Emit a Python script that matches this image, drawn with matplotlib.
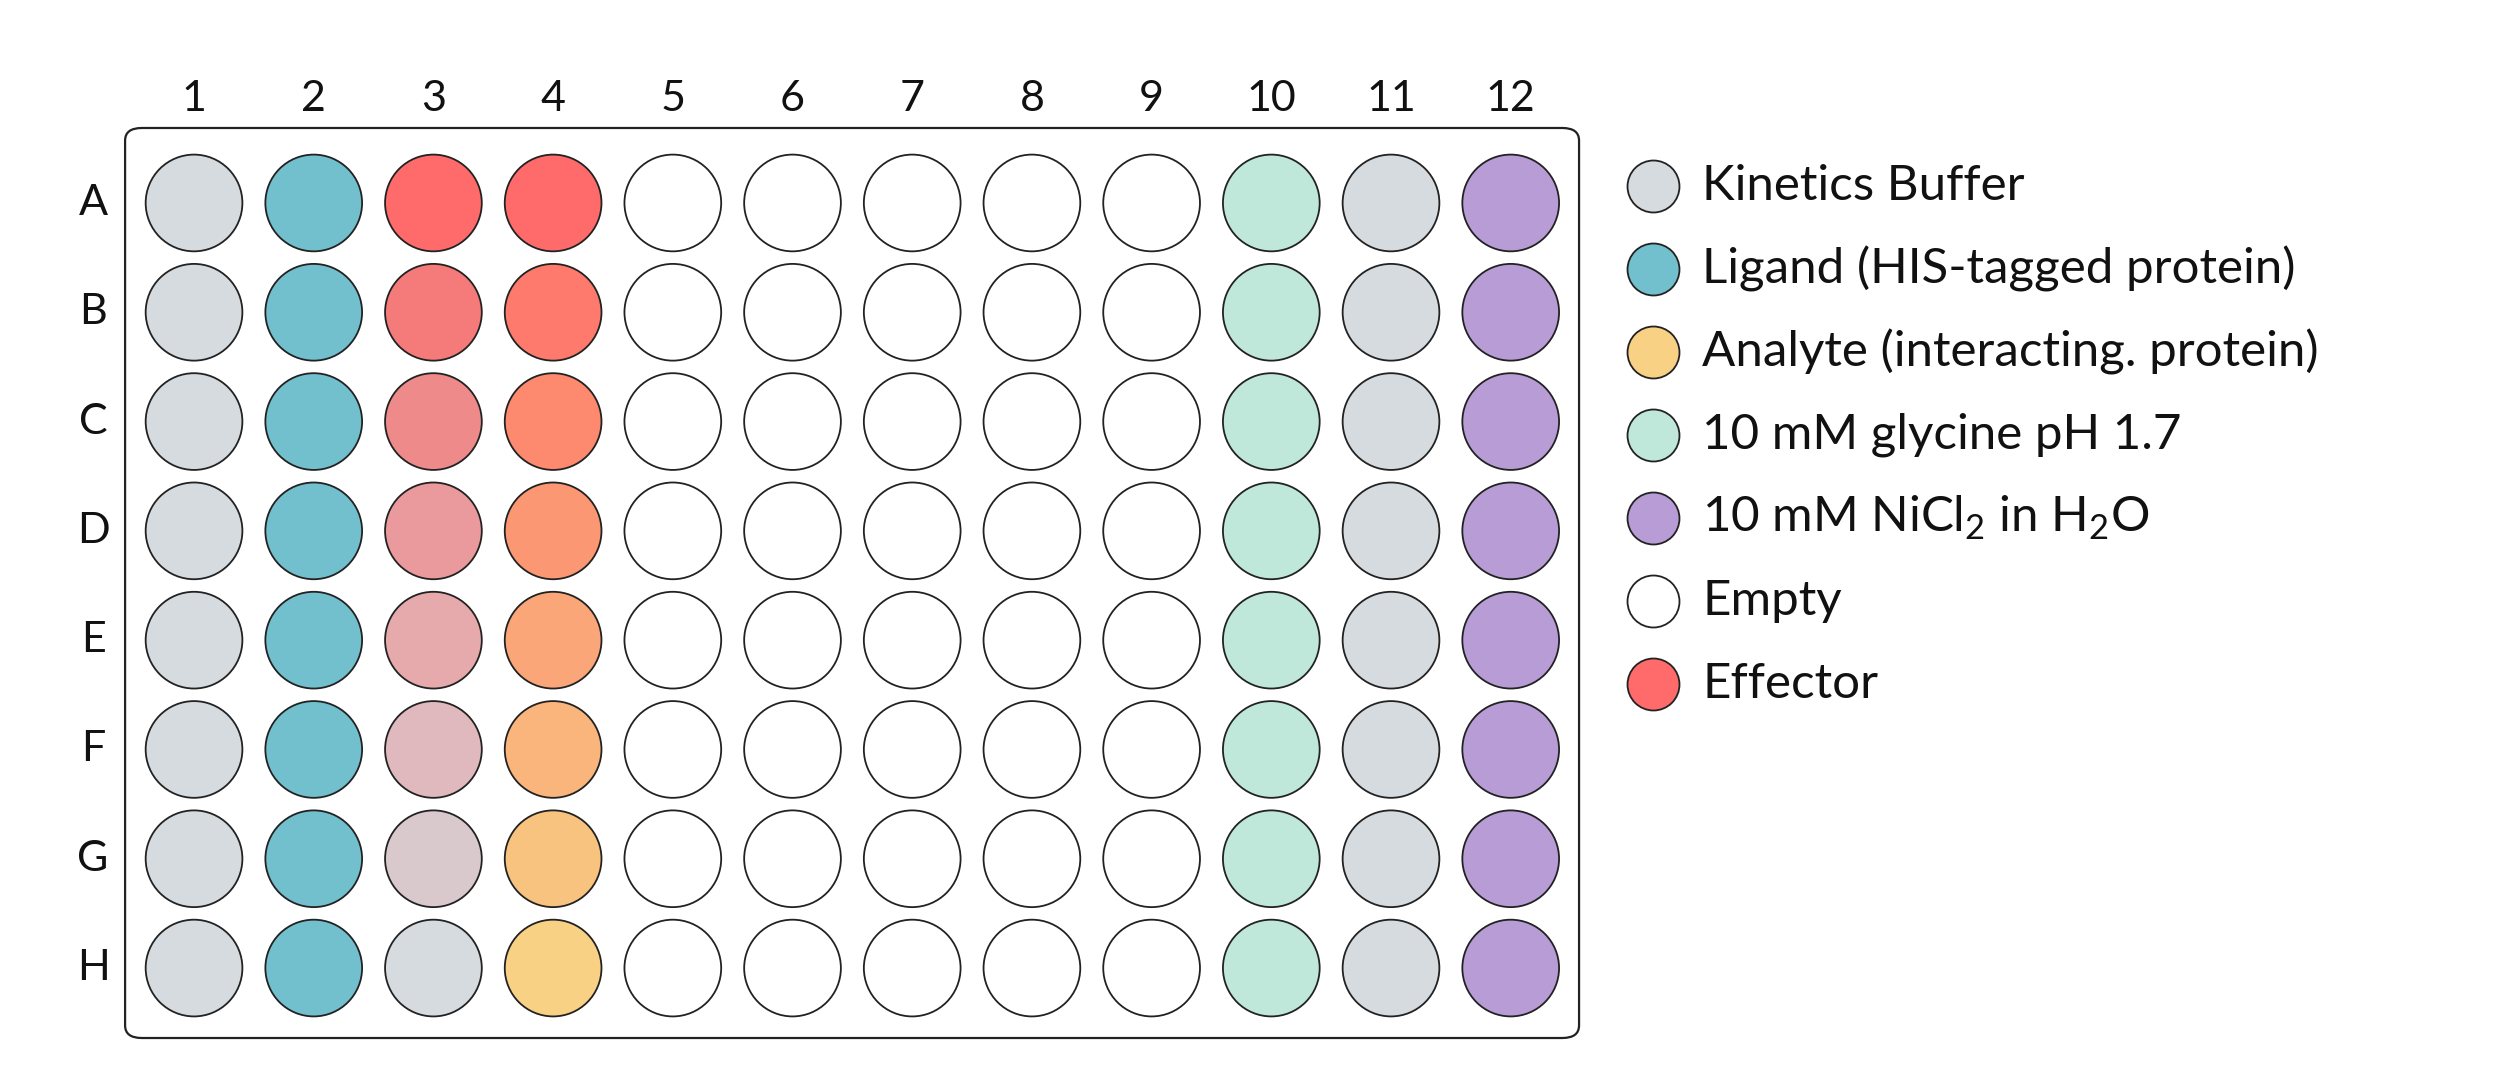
import matplotlib
matplotlib.use("Agg")
import matplotlib.pyplot as plt
from matplotlib.patches import FancyBboxPatch

plt.rcParams['font.family'] = ['Lato', 'DejaVu Sans']
plt.rcParams['mathtext.fontset'] = 'custom'
plt.rcParams['mathtext.rm'] = 'Lato'

columns = [str(i) for i in range(1, 13)]
rows = list("ABCDEFGH")

buffer_c = "#d5dbdf"
ligand_c = "#72bfcd"
glycine_c = "#bfe8db"
nicl_c = "#b89cd6"
empty_c = "#ffffff"
effector_c = "#ff6b6b"
analyte_c = "#f8d184"

col3_colors = ["#ff6b6b", "#f57a7a", "#ef8a8b", "#ea9a9c", "#e6aaac", "#dfb9bd", "#d9c9cd", "#d5dbdf"]
col4_colors = ["#ff6b6b", "#fe7a6c", "#fd896f", "#fb9773", "#faa678", "#f9b57c", "#f8c37f", "#f8d184"]

column_fill = {1: buffer_c, 2: ligand_c, 10: glycine_c, 11: buffer_c, 12: nicl_c}

legend_labels = ["Kinetics Buffer", "Ligand (HIS-tagged protein)", "Analyte (interacting. protein)",
                 "10 mM glycine pH 1.7", r"10 mM NiCl$_{2}$ in H$_{2}$O", "Empty", "Effector"]
legend_colors = [buffer_c, ligand_c, analyte_c, glycine_c, nicl_c, empty_c, effector_c]

fig = plt.figure(figsize=(25, 10.92), dpi=100)
ax = fig.add_axes([0, 0, 1, 1])
ax.set_xlim(-0.621, 20.265)
ax.set_ylim(8.134, -1.857)
ax.axis("off")

plate = FancyBboxPatch((0.424, -0.686), 12.571 - 0.424, 7.64 + 0.686,
                       boxstyle="round,pad=0,rounding_size=0.14",
                       mutation_aspect=119.7 / 109.3 * 0.75,
                       facecolor="white", edgecolor="#222222", linewidth=1.6)
ax.add_patch(plate)

xs, ys, cs = [], [], []
for ci in range(1, 13):
    for ri in range(8):
        if ci == 3:
            c = col3_colors[ri]
        elif ci == 4:
            c = col4_colors[ri]
        else:
            c = column_fill.get(ci, empty_c)
        xs.append(ci); ys.append(ri); cs.append(c)
ax.scatter(xs, ys, s=4850, c=cs, edgecolors="#222222", linewidths=1.3, zorder=3)

for ci, lab in enumerate(columns, start=1):
    ax.text(ci, -0.95, lab, ha="center", va="center", fontsize=31, color="#111111")
for ri, lab in enumerate(rows):
    ax.text(0.156, ri, lab, ha="center", va="center", fontsize=31, color="#111111")

step = 83 / 109.3
for i, (lab, col) in enumerate(zip(legend_labels, legend_colors)):
    y = -0.156 + i * step
    ax.scatter([13.19], [y], s=1400, c=[col], edgecolors="#222222", linewidths=1.3, zorder=3)
    ax.text(13.6, y, lab, ha="left", va="center", fontsize=35.5, color="#111111")

fig.savefig("out.png", dpi=100)
